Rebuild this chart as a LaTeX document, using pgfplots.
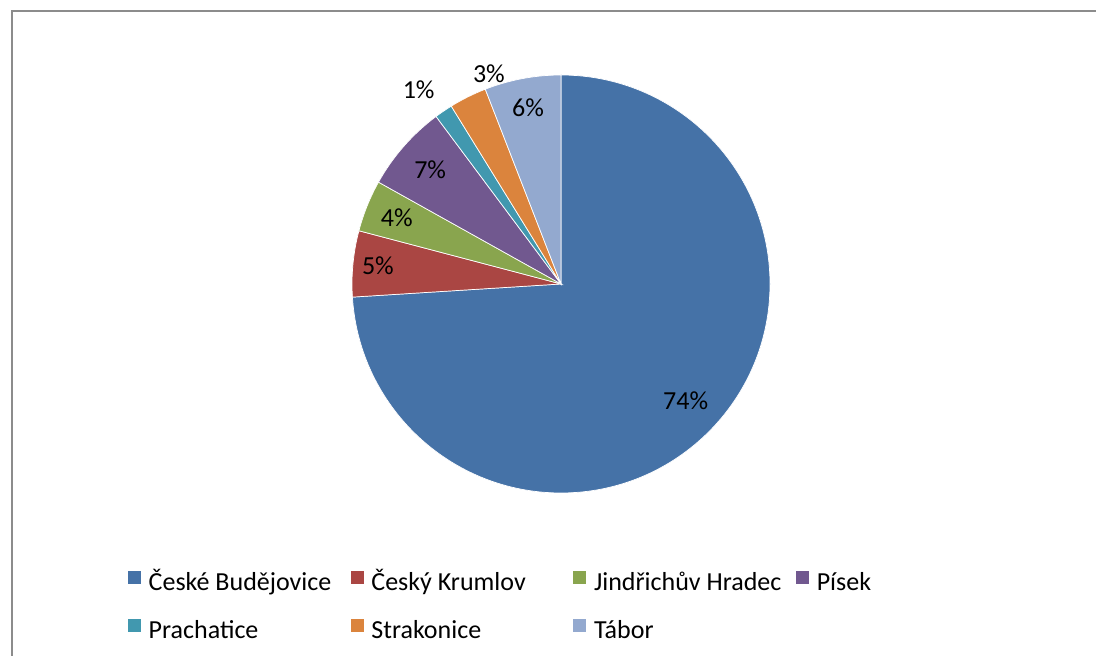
\documentclass[border=0pt]{standalone}
\usepackage{fontspec}
\setmainfont{Carlito}
\usepackage{pgfplots}
\pgfplotsset{compat=1.18}

\definecolor{cbud}{HTML}{4572A7}
\definecolor{ckrum}{HTML}{AA4643}
\definecolor{jhrad}{HTML}{89A54E}
\definecolor{pisek}{HTML}{71588F}
\definecolor{prach}{HTML}{4198AF}
\definecolor{strak}{HTML}{DB843D}
\definecolor{tabor}{HTML}{93A9CF}
\definecolor{framegray}{HTML}{8C8C8C}

% pie centre and radius, in pixels of the 1096x656 frame (y from the bottom)
\def\cx{561}\def\cy{372}\def\R{209}
\newcommand\labfont{\fontsize{26bp}{30bp}\selectfont}
\newcommand\legfont{\fontsize{26bp}{30bp}\selectfont}

% #1 share before this slice, #2 share (%), #3 colour, #4 name,
% #5 label distance from centre, #6 label angle shift
\newcommand\slice[6]{%
  \pgfmathsetmacro\sa{90-3.6*#1}%
  \pgfmathsetmacro\ea{90-3.6*(#1+#2)}%
  \pgfmathsetmacro\px{\cx+\R*cos(\sa)}%
  \pgfmathsetmacro\py{\cy+\R*sin(\sa)}%
  \pgfmathsetmacro\ma{(\sa+\ea)/2+#6}%
  \pgfmathsetmacro\lx{\cx+#5*cos(\ma)}%
  \pgfmathsetmacro\ly{\cy+#5*sin(\ma)}%
  \pgfmathtruncatemacro\pct{round(#2)}%
  \edef\doit{%
    \noexpand\addplot[fill=#3, draw=white, line width=0.7bp, mark=none]
      coordinates {(\cx,\cy) (\px,\py)}
      arc[start angle=\sa, end angle=\ea, radius=\R bp] -- cycle;
    \noexpand\node[font=\noexpand\labfont, text=black] at (axis cs:\lx,\ly) {\pct\noexpand\%};
  }\doit
  \addlegendentry{\makebox[201bp][l]{#4}}%
}

\begin{document}
\begin{tikzpicture}
\begin{axis}[
  width=1096bp, height=656bp, scale only axis,
  xmin=0, xmax=1096, ymin=0, ymax=656,
  hide axis,
  legend image code/.code={\draw[#1] (0bp,0bp) rectangle (14bp,14bp);},
  legend columns=4,
  legend style={at={(axis cs:127,86)}, anchor=north west, draw=none, fill=none,
    inner sep=0pt, outer sep=0pt, row sep=22bp,
    nodes={inner sep=0pt, text height=18bp, text depth=6bp, font=\legfont},
    /tikz/column sep=0pt,
    /tikz/every odd column/.append style={column sep=7bp}},
]
% keep the whole frame as the picture's bounding box
\path (rel axis cs:0,0) rectangle (rel axis cs:1,1);
\slice{0}{74.0}{cbud}{České Budějovice}{171}{0}
\slice{74.0}{5.1}{ckrum}{Český Krumlov}{184}{0}
\slice{79.1}{4.0}{jhrad}{Jindřichův Hradec}{177}{0}
\slice{83.1}{6.7}{pisek}{Písek}{174}{0}
\slice{89.8}{1.4}{prach}{Prachatice}{241}{2}
\slice{91.2}{2.9}{strak}{Strakonice}{222}{-7.5}
\slice{94.1}{5.9}{tabor}{Tábor}{179}{0}
% outer chart frame, cut by the page on the right and at the bottom
\draw[framegray, line width=2bp] (axis cs:12,0) -- (axis cs:12,644.5) -- (axis cs:1096,644.5);
\end{axis}
\end{tikzpicture}
\end{document}
